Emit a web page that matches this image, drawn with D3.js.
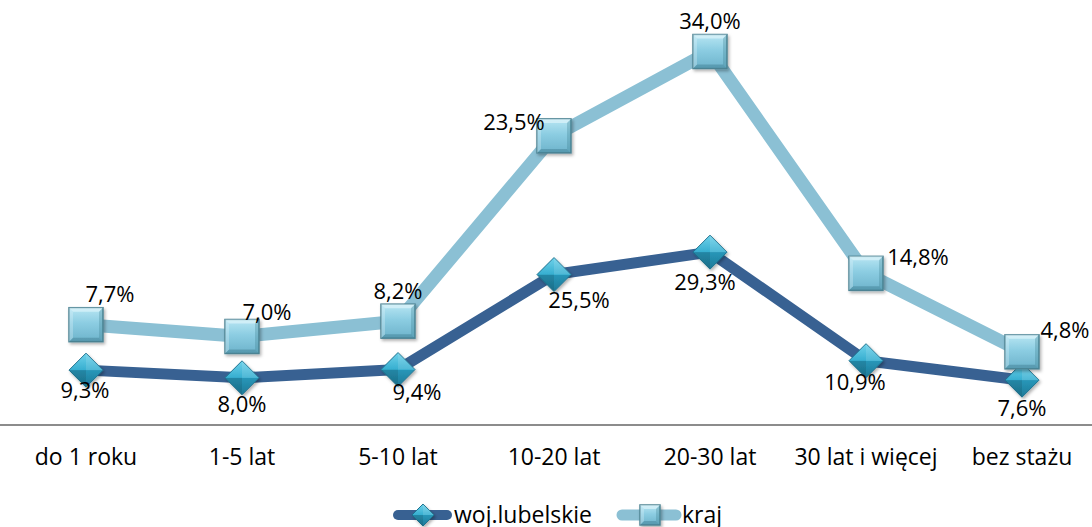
<!DOCTYPE html>
<html>
<head>
<meta charset="utf-8">
<script src="https://cdn.jsdelivr.net/npm/d3@7"></script>
<style>
  html, body { margin: 0; padding: 0; background: #fff; }
  svg { display: block; }
  text { font-family: "Open Sans", "Lato", sans-serif; fill: #000; }
</style>
</head>
<body>
<svg id="chart" width="1092" height="527"></svg>
<script>
// ---- data ----
const categories = ["do 1 roku", "1-5 lat", "5-10 lat", "10-20 lat", "20-30 lat", "30 lat i więcej", "bez stażu"];
const seriesNames = ["woj.lubelskie", "kraj"];
const wojValues = [9.3, 8.0, 9.4, 25.5, 29.3, 10.9, 7.6];
const krajValues = [7.7, 7.0, 8.2, 23.5, 34.0, 14.8, 4.8];

// ---- layout (label nudges, px) ----
const wojLabelOffsets = [[-1, 20], [0, 26], [19, 23], [25, 26], [-5, 30], [-11, 22], [0, 28]];
const krajLabelOffsets = [[24, -30], [25, -24], [0, -30], [-40, -14], [0, -30], [52, -16], [43, -22]];

const svg = d3.select("#chart");
const W = 1092, H = 527;
const axisY = 425;

const x = d3.scaleBand().domain(categories).range([8, 1100]);
const y = d3.scaleLinear().domain([0, 70]).range([axisY, axisY - 70 * 5.9]);

const fmt = v => d3.format(".1f")(v).replace(".", ",") + "%";

// stacked values (line chart with stacking)
const stackedWoj = wojValues.map(v => v);
const stackedKraj = krajValues.map((v, i) => v + wojValues[i]);

const defs = svg.append("defs");
const gD = defs.append("linearGradient").attr("id", "gDiamond").attr("x1", 0).attr("y1", 0).attr("x2", 0).attr("y2", 1);
gD.append("stop").attr("offset", "0%").attr("stop-color", "#6fd2ea");
gD.append("stop").attr("offset", "50%").attr("stop-color", "#36aed0");
gD.append("stop").attr("offset", "51%").attr("stop-color", "#2896b8");
gD.append("stop").attr("offset", "100%").attr("stop-color", "#1d7a98");
const gS = defs.append("linearGradient").attr("id", "gSquare").attr("x1", 0).attr("y1", 0).attr("x2", 0).attr("y2", 1);
gS.append("stop").attr("offset", "0%").attr("stop-color", "#b8e6f3");
gS.append("stop").attr("offset", "45%").attr("stop-color", "#8ccde2");
gS.append("stop").attr("offset", "100%").attr("stop-color", "#6db3cb");
const sh = defs.append("filter").attr("id", "shadow").attr("x", "-30%").attr("y", "-30%").attr("width", "160%").attr("height", "160%");
sh.append("feDropShadow").attr("dx", 1.5).attr("dy", 2).attr("stdDeviation", 1.5).attr("flood-color", "#000").attr("flood-opacity", 0.3);

// axis
const xAxis = d3.axisBottom(x).tickSize(0).tickPadding(24);
const axG = svg.append("g").attr("transform", `translate(0,${axisY})`).call(xAxis);
axG.select(".domain").attr("d", `M0,0H${W}`).attr("stroke", "#8c8c8c").attr("stroke-width", 2);
axG.selectAll(".tick text").attr("font-size", 23).attr("font-family", "Open Sans, Lato, sans-serif").attr("fill", "#000");

const cx = c => x(c) + x.bandwidth() / 2;

const line = d3.line().x((d, i) => cx(categories[i])).y(d => y(d));

svg.append("path").datum(stackedWoj).attr("d", line)
  .attr("fill", "none").attr("stroke", "#386192").attr("stroke-width", 11).attr("stroke-linejoin", "round");
svg.append("path").datum(stackedKraj).attr("d", line)
  .attr("fill", "none").attr("stroke", "#8bc0d4").attr("stroke-width", 13).attr("stroke-linejoin", "round");

function diamond(g, px, py, r) {
  const gg = g.append("g").attr("transform", `translate(${px},${py})`).attr("filter", "url(#shadow)");
  gg.append("path").attr("d", `M0,${-r}L${r},0L0,${r}L${-r},0Z`).attr("fill", "url(#gDiamond)").attr("stroke", "#1f7390").attr("stroke-width", 1);
  gg.append("path").attr("d", `M0,${-r}L${r},0L0,0Z`).attr("fill", "#ffffff").attr("opacity", 0.12);
  gg.append("path").attr("d", `M0,${r}L${-r},0L0,0Z`).attr("fill", "#000").attr("opacity", 0.1);
}
function square(g, px, py, s) {
  const h = s / 2;
  const gg = g.append("g").attr("transform", `translate(${px},${py})`).attr("filter", "url(#shadow)");
  gg.append("rect").attr("x", -h).attr("y", -h).attr("width", s).attr("height", s).attr("fill", "url(#gSquare)").attr("stroke", "#4f8595").attr("stroke-width", 1.5);
  const b = 4;
  gg.append("path").attr("d", `M${-h},${-h}L${h},${-h}L${h - b},${-h + b}L${-h + b},${-h + b}Z`).attr("fill", "#e4f6fb").attr("opacity", 0.6);
  gg.append("path").attr("d", `M${-h},${h}L${h},${h}L${h - b},${h - b}L${-h + b},${h - b}Z`).attr("fill", "#3d7d90").attr("opacity", 0.45);
  gg.append("path").attr("d", `M${h},${-h}L${h},${h}L${h - b},${h - b}L${h - b},${-h + b}Z`).attr("fill", "#3d7d90").attr("opacity", 0.3);
  gg.append("path").attr("d", `M${-h},${-h}L${-h},${h}L${-h + b},${h - b}L${-h + b},${-h + b}Z`).attr("fill", "#e4f6fb").attr("opacity", 0.3);
}

const mk = svg.append("g");
stackedWoj.forEach((v, i) => diamond(mk, cx(categories[i]), y(v), 17));
stackedKraj.forEach((v, i) => square(mk, cx(categories[i]), y(v), 34));

const lab = svg.append("g").attr("font-size", 22).attr("text-anchor", "middle");
wojValues.forEach((v, i) => {
  lab.append("text").attr("x", cx(categories[i]) + wojLabelOffsets[i][0]).attr("y", y(stackedWoj[i]) + wojLabelOffsets[i][1])
    .attr("dy", "0.35em").text(fmt(v));
});
krajValues.forEach((v, i) => {
  lab.append("text").attr("x", cx(categories[i]) + krajLabelOffsets[i][0]).attr("y", y(stackedKraj[i]) + krajLabelOffsets[i][1])
    .attr("dy", "0.35em").text(fmt(v));
});

// legend
const leg = svg.append("g").attr("transform", "translate(0,515)");
leg.append("line").attr("x1", 398).attr("x2", 447).attr("y1", 0).attr("y2", 0).attr("stroke", "#386192").attr("stroke-width", 10).attr("stroke-linecap", "round");
diamond(leg, 423, 0, 11);
leg.append("text").attr("x", 454).attr("y", 0).attr("dy", "0.35em").attr("font-size", 23).text(seriesNames[0]);
leg.append("line").attr("x1", 622).attr("x2", 676).attr("y1", 0).attr("y2", 0).attr("stroke", "#8bc0d4").attr("stroke-width", 11).attr("stroke-linecap", "round");
square(leg, 650, 0, 20);
leg.append("text").attr("x", 682).attr("y", 0).attr("dy", "0.35em").attr("font-size", 23).text(seriesNames[1]);
</script>
</body>
</html>
